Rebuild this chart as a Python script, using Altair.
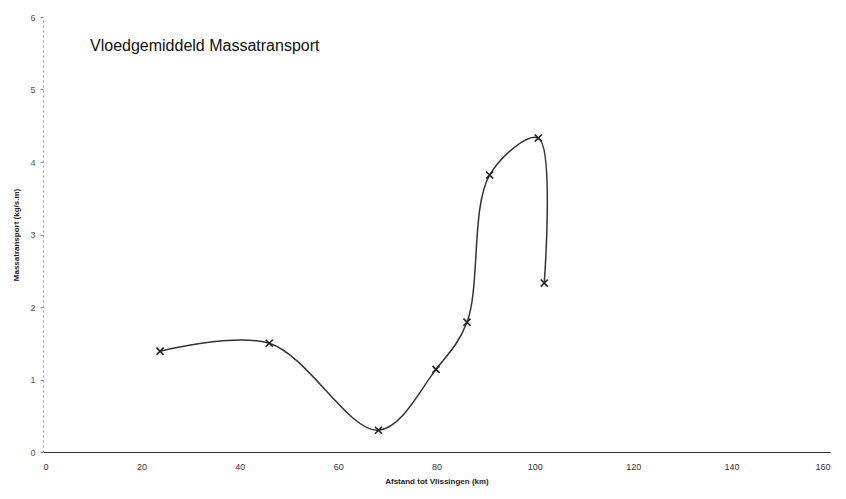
import altair as alt
import pandas as pd

afstand = [23.8, 46.0, 68.2, 79.9, 86.2, 90.8, 100.7, 101.9]
massatransport = [1.39, 1.50, 0.30, 1.14, 1.79, 3.82, 4.33, 2.33]
x_ticks = [0, 20, 40, 60, 80, 100, 120, 140, 160]
y_ticks = [0, 1, 2, 3, 4, 5, 6]
title_text = "Vloedgemiddeld Massatransport"

df = pd.DataFrame({"x": afstand, "y": massatransport, "order": list(range(len(afstand)))})

FONT = "Liberation Sans"

x_enc = alt.X("x:Q", scale=alt.Scale(domain=[0, 160], nice=False),
              axis=alt.Axis(values=x_ticks, title="Afstand tot Vlissingen (km)", format="d",
                            titleFont=FONT, titleFontSize=8, titleFontWeight="bold",
                            titleColor="#222", titlePadding=6,
                            labelFont=FONT, labelFontSize=9, labelColor="#333",
                            labelPadding=10, ticks=False, grid=False,
                            domainColor="#333", domainWidth=1.2))
y_enc = alt.Y("y:Q", scale=alt.Scale(domain=[0, 6], nice=False),
              axis=alt.Axis(values=y_ticks, title="Massatransport (kg/s.m)", format="d",
                            titleFont=FONT, titleFontSize=8, titleFontWeight="bold",
                            titleColor="#222", titlePadding=9,
                            labelFont=FONT, labelFontSize=9, labelColor="#555",
                            labelPadding=5, tickSize=3, tickColor="#888",
                            grid=False, domainColor="#999", domainDash=[2, 3]))

line = alt.Chart(df).mark_line(interpolate="catmull-rom", color="#333", strokeWidth=1.5).encode(
    x=x_enc, y=y_enc, order="order:Q")

pts = alt.Chart(df).mark_point(shape="M-1,-1L1,1M-1,1L1,-1", filled=False, color="#222",
                               strokeWidth=1.6, size=50, opacity=1).encode(x="x:Q", y="y:Q")

title = alt.Chart(pd.DataFrame({"t": [title_text]})).mark_text(
    align="left", baseline="middle", font=FONT, fontSize=16, color="#111").encode(
    text="t:N", x=alt.value(47), y=alt.value(29))

chart = alt.layer(line, pts, title).properties(
    width=787, height=435,
    autosize=alt.AutoSizeParams(type="none"),
    padding={"left": 35, "top": 9, "right": 8, "bottom": 35},
    background="white",
).configure_view(stroke=None)

chart.save("out.html", embed_options={"renderer": "svg", "actions": False})
